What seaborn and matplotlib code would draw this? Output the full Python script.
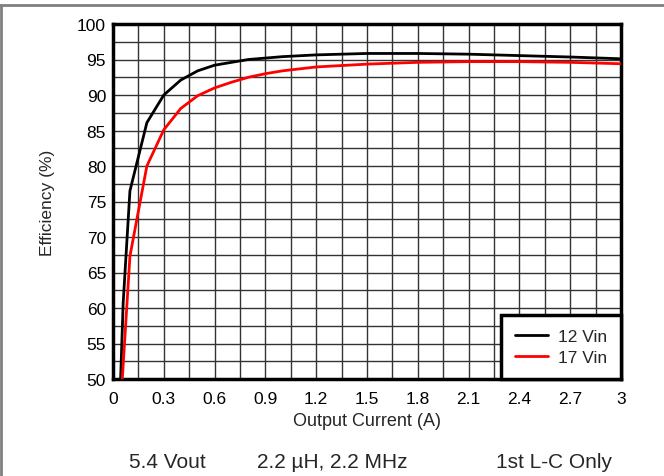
import numpy as np
import pandas as pd
import matplotlib
matplotlib.use("Agg")
import matplotlib.pyplot as plt
from matplotlib.lines import Line2D
import seaborn as sns

# Data
current_12 = [0.045, 0.06, 0.1, 0.2, 0.3, 0.4, 0.5, 0.6, 0.7, 0.8, 0.9, 1.0, 1.2, 1.5, 1.8, 2.1, 2.4, 2.7, 3.0]
eff_12 = [50.0, 60.7, 76.5, 86.1, 90.0, 92.1, 93.4, 94.2, 94.6, 95.0, 95.2, 95.4, 95.65, 95.85, 95.85, 95.75, 95.55, 95.35, 95.1]
current_17 = [0.055, 0.1, 0.2, 0.3, 0.4, 0.5, 0.6, 0.7, 0.8, 0.9, 1.0, 1.2, 1.5, 1.8, 2.1, 2.4, 2.7, 3.0]
eff_17 = [50.0, 67.3, 80.0, 85.1, 88.1, 89.9, 91.0, 91.8, 92.5, 93.0, 93.4, 93.95, 94.35, 94.6, 94.7, 94.7, 94.6, 94.4]
series_names = ["12 Vin", "17 Vin"]
series_colors = ["#000000", "#ff0000"]
x_ticks = [0, 0.3, 0.6, 0.9, 1.2, 1.5, 1.8, 2.1, 2.4, 2.7, 3]
x_tick_labels = ["0", "0.3", "0.6", "0.9", "1.2", "1.5", "1.8", "2.1", "2.4", "2.7", "3"]
y_ticks = [50, 55, 60, 65, 70, 75, 80, 85, 90, 95, 100]
footer_texts = ["5.4 Vout", "2.2 \u00b5H, 2.2 MHz", "1st L-C Only"]

df = pd.concat([
    pd.DataFrame({"Current": current_12, "Efficiency": eff_12, "Series": series_names[0]}),
    pd.DataFrame({"Current": current_17, "Efficiency": eff_17, "Series": series_names[1]}),
])

sns.set_style("white")
plt.rcParams["font.family"] = ["Liberation Sans", "DejaVu Sans"]

fig = plt.figure(figsize=(6.64, 4.77), dpi=100)
ax = fig.add_axes([113 / 664, 1 - 380 / 477, (621 - 113) / 664, (380 - 25) / 477])

sns.lineplot(data=df, x="Current", y="Efficiency", hue="Series",
             palette=dict(zip(series_names, series_colors)), sort=False,
             linewidth=2, ax=ax, legend=False, zorder=3)

ax.set_xlim(0, 3)
ax.set_ylim(50, 100)
ax.set_xticks(x_ticks)
ax.set_xticklabels(x_tick_labels)
ax.set_yticks(y_ticks)
ax.set_xticks(np.arange(0, 3.001, 0.15), minor=True)
ax.set_yticks(np.arange(50, 100.001, 2.5), minor=True)
ax.grid(True, which="both", color="#333333", linewidth=1.0, zorder=1)
ax.set_axisbelow(True)
ax.tick_params(axis="both", which="both", length=0, labelsize=12.5, colors="black")
ax.tick_params(axis="x", pad=9)
ax.tick_params(axis="y", pad=5)
for s in ax.spines.values():
    s.set_visible(True)
    s.set_color("black")
    s.set_linewidth(2.5)

ax.set_xlabel("Output Current (A)", fontsize=13, labelpad=4)
ax.set_ylabel("Efficiency (%)", fontsize=12.5, labelpad=16)

handles = [Line2D([0], [0], color=c, lw=2) for c in series_colors]
leg = ax.legend(handles, series_names, loc="lower right", fontsize=12.5,
                frameon=True, fancybox=False, borderaxespad=0, handlelength=1.9,
                handletextpad=0.6, borderpad=0.8, labelspacing=0.32)
leg.get_frame().set_edgecolor("black")
leg.get_frame().set_linewidth(2.5)
leg.get_frame().set_alpha(1)

for txt, xc in zip(footer_texts, [167, 332, 554]):
    fig.text(xc / 664, 1 - 463 / 477, txt, ha="center", va="center", fontsize=15)

fig.add_artist(Line2D([0, 1], [1 - 5.5 / 477, 1 - 5.5 / 477], transform=fig.transFigure,
                      color="#808080", lw=2))
fig.add_artist(Line2D([1.2 / 664, 1.2 / 664], [0, 1 - 5.5 / 477], transform=fig.transFigure,
                      color="#808080", lw=2))

fig.savefig("out.png", dpi=100)
